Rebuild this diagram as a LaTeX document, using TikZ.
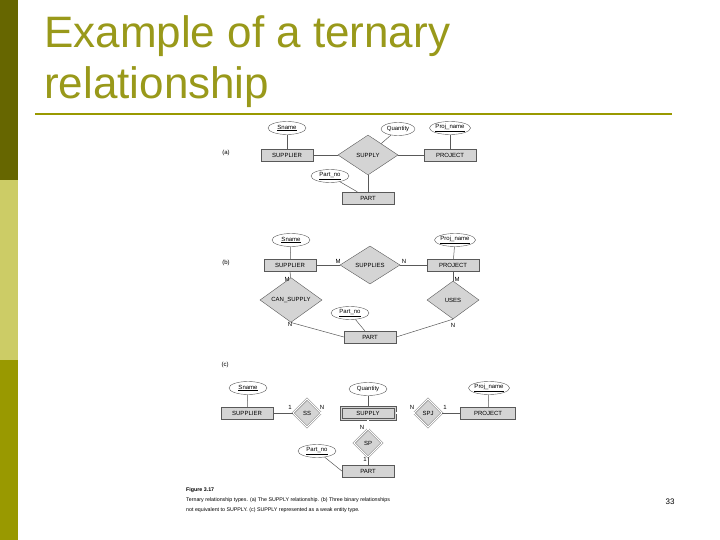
\documentclass[tikz,border=0pt]{standalone}
\usepackage{fontspec}
\setmainfont{Liberation Sans}
\usetikzlibrary{shapes.geometric}
\definecolor{olive1}{HTML}{666600}
\definecolor{olive2}{HTML}{CCCC66}
\definecolor{olive3}{HTML}{999900}
\definecolor{ttl}{HTML}{99991A}
\definecolor{ent}{HTML}{D4D4D4}
\begin{document}
\begin{tikzpicture}[x=1pt,y=-1pt,
 ent/.style={draw=gray!70!black,fill=ent,minimum width=#1,minimum height=12pt,inner sep=0pt,font=\fontsize{6}{7}\selectfont},
 ent/.default=52pt,
 rel/.style n args={2}{diamond,draw=gray!70!black,fill=ent,minimum width=#1,minimum height=#2,inner sep=0pt,font=\fontsize{6}{7}\selectfont},
 wrel/.style={diamond,draw=gray!70!black,fill=ent,double,double distance=1.2pt,minimum width=#1,minimum height=#1,inner sep=0pt,font=\fontsize{6}{7}\selectfont},
 att/.style={ellipse,draw=gray!70!black,fill=white,minimum width=#1,minimum height=13pt,inner sep=0pt,font=\fontsize{6}{7}\selectfont},
 att/.default=38pt,
 ln/.style={draw=gray!70!black,line width=0.5pt},
 dl/.style={draw=gray!70!black,double,double distance=1.2pt},
 lab/.style={font=\fontsize{6}{7}\selectfont,inner sep=0pt},
 tiny/.style={font=\fontsize{5.3}{6}\selectfont,inner sep=0pt,anchor=west}]
\useasboundingbox (0,0) rectangle (720,540);
\fill[white] (0,0) rectangle (720,540);
\fill[olive1] (0,0) rectangle (18,180);
\fill[olive2] (0,180) rectangle (18,360);
\fill[olive3] (0,360) rectangle (18,540);
\node[anchor=base west,text=ttl,font=\fontsize{44}{50}\selectfont,inner sep=0pt] (t1) at (44,48) {Example of a ternary};
\node[anchor=base west,text=ttl,font=\fontsize{44}{50}\selectfont,inner sep=0pt] (t2) at (44,99) {relationship};
\draw[olive3,line width=2.5pt] (35,114) -- (672,114);
% (a)
\node[lab] (la) at (226,153) {(a)};
\node[ent] (sa) at (287,155) {SUPPLIER};
\node[rel={60pt}{40pt}] (spa) at (368,155) {SUPPLY};
\node[ent] (pa) at (450,155) {PROJECT};
\node[ent] (pta) at (368,198) {PART};
\node[att] (sna) at (287,128) {\underline{Sname}};
\node[att=34pt] (qa) at (398,129) {Quantity};
\node[att=40pt] (pna) at (450,128) {\underline{Proj\_name}};
\node[att] (pno) at (330,176) {\underline{Part\_no}};
\draw[ln] (sna)--(sa); \draw[ln] (sa)--(spa); \draw[ln] (spa)--(pa);
\draw[ln] (spa)--(pta); \draw[ln] (qa)--(spa); \draw[ln] (pna)--(pa); \draw[ln] (pno)--(pta);
% (b)
\node[lab] (lb) at (226,263) {(b)};
\node[ent] (sb) at (290,265) {SUPPLIER};
\node[rel={60pt}{38pt}] (spb) at (370,265) {SUPPLIES};
\node[ent] (pb) at (453,265) {PROJECT};
\node[att] (snb) at (291,240) {\underline{Sname}};
\node[att=40pt] (pnb) at (455,240) {\underline{Proj\_name}};
\node[rel={62pt}{36pt}] (cs) at (291,300) {CAN\_SUPPLY};
\node[rel={52pt}{38pt}] (us) at (453,300) {USES};
\node[ent] (ptb) at (370,337) {PART};
\node[att] (pnob) at (350,313) {\underline{Part\_no}};
\draw[ln] (snb)--(sb); \draw[ln] (pnb)--(pb);
\draw[ln] (sb)--(spb); \draw[ln] (spb)--(pb);
\draw[ln] (sb)--(cs); \draw[ln] (pb)--(us);
\draw[ln] (cs.south)--(ptb.west); \draw[ln] (us.south)--(ptb.east);
\draw[ln] (pnob)--(ptb);
\node[lab] (m1) at (338,261) {M}; \node[lab] (n1) at (404,261) {N};
\node[lab] (m2) at (287,279) {M}; \node[lab] (n2) at (290,324) {N};
\node[lab] (m3) at (457,279) {M}; \node[lab] (n3) at (453,325) {N};
% (c)
\node[lab] (lc) at (225,365) {(c)};
\node[ent] (sc) at (247,413) {SUPPLIER};
\node[wrel=28pt] (ss) at (307,413) {SS};
\node[ent=56pt,minimum height=14pt] (spc) at (368,413) {SUPPLY};
\draw[gray!70!black] ([shift={(2,2)}]spc.north west) rectangle ([shift={(-2,-2)}]spc.south east);
\node[wrel=28pt] (spj) at (428,413) {SPJ};
\node[ent=55pt] (pc) at (488,413) {PROJECT};
\node[wrel=28pt] (sp) at (368,443) {SP};
\node[ent] (ptc) at (368,471) {PART};
\node[att] (snc) at (248,388) {\underline{Sname}};
\node[att] (qc) at (368,389) {Quantity};
\node[att=40pt] (pnc) at (489,388) {\underline{Proj\_name}};
\node[att] (pnoc) at (317,451) {\underline{Part\_no}};
\draw[ln] (snc)--(sc); \draw[ln] (qc)--(spc); \draw[ln] (pnc)--(pc);
\draw[ln] (sc)--(ss); \draw[dl] (ss)--(spc); \draw[dl] (spc)--(spj); \draw[ln] (spj)--(pc);
\draw[dl] (spc)--(sp); \draw[ln] (sp)--(ptc); \draw[ln] (pnoc)--(ptc.west);
\node[lab] (c1) at (290,407) {1}; \node[lab] (c2) at (322,407) {N};
\node[lab] (c3) at (412,407) {N}; \node[lab] (c4) at (445,407) {1};
\node[lab] (c5) at (362,427) {N}; \node[lab] (c6) at (365,459) {1};
% caption
\node[tiny,font=\fontsize{5.3}{6}\bfseries\selectfont] (fg) at (186,490) {Figure 3.17};
\node[tiny] (c1l) at (186,500) {Ternary relationship types. (a) The SUPPLY relationship. (b) Three binary relationships};
\node[tiny] (c2l) at (186,510) {not equivalent to SUPPLY. (c) SUPPLY represented as a weak entity type.};
\node[font=\fontsize{8}{9}\selectfont,inner sep=0pt] (pg) at (670,502) {33};
\end{tikzpicture}
\end{document}
